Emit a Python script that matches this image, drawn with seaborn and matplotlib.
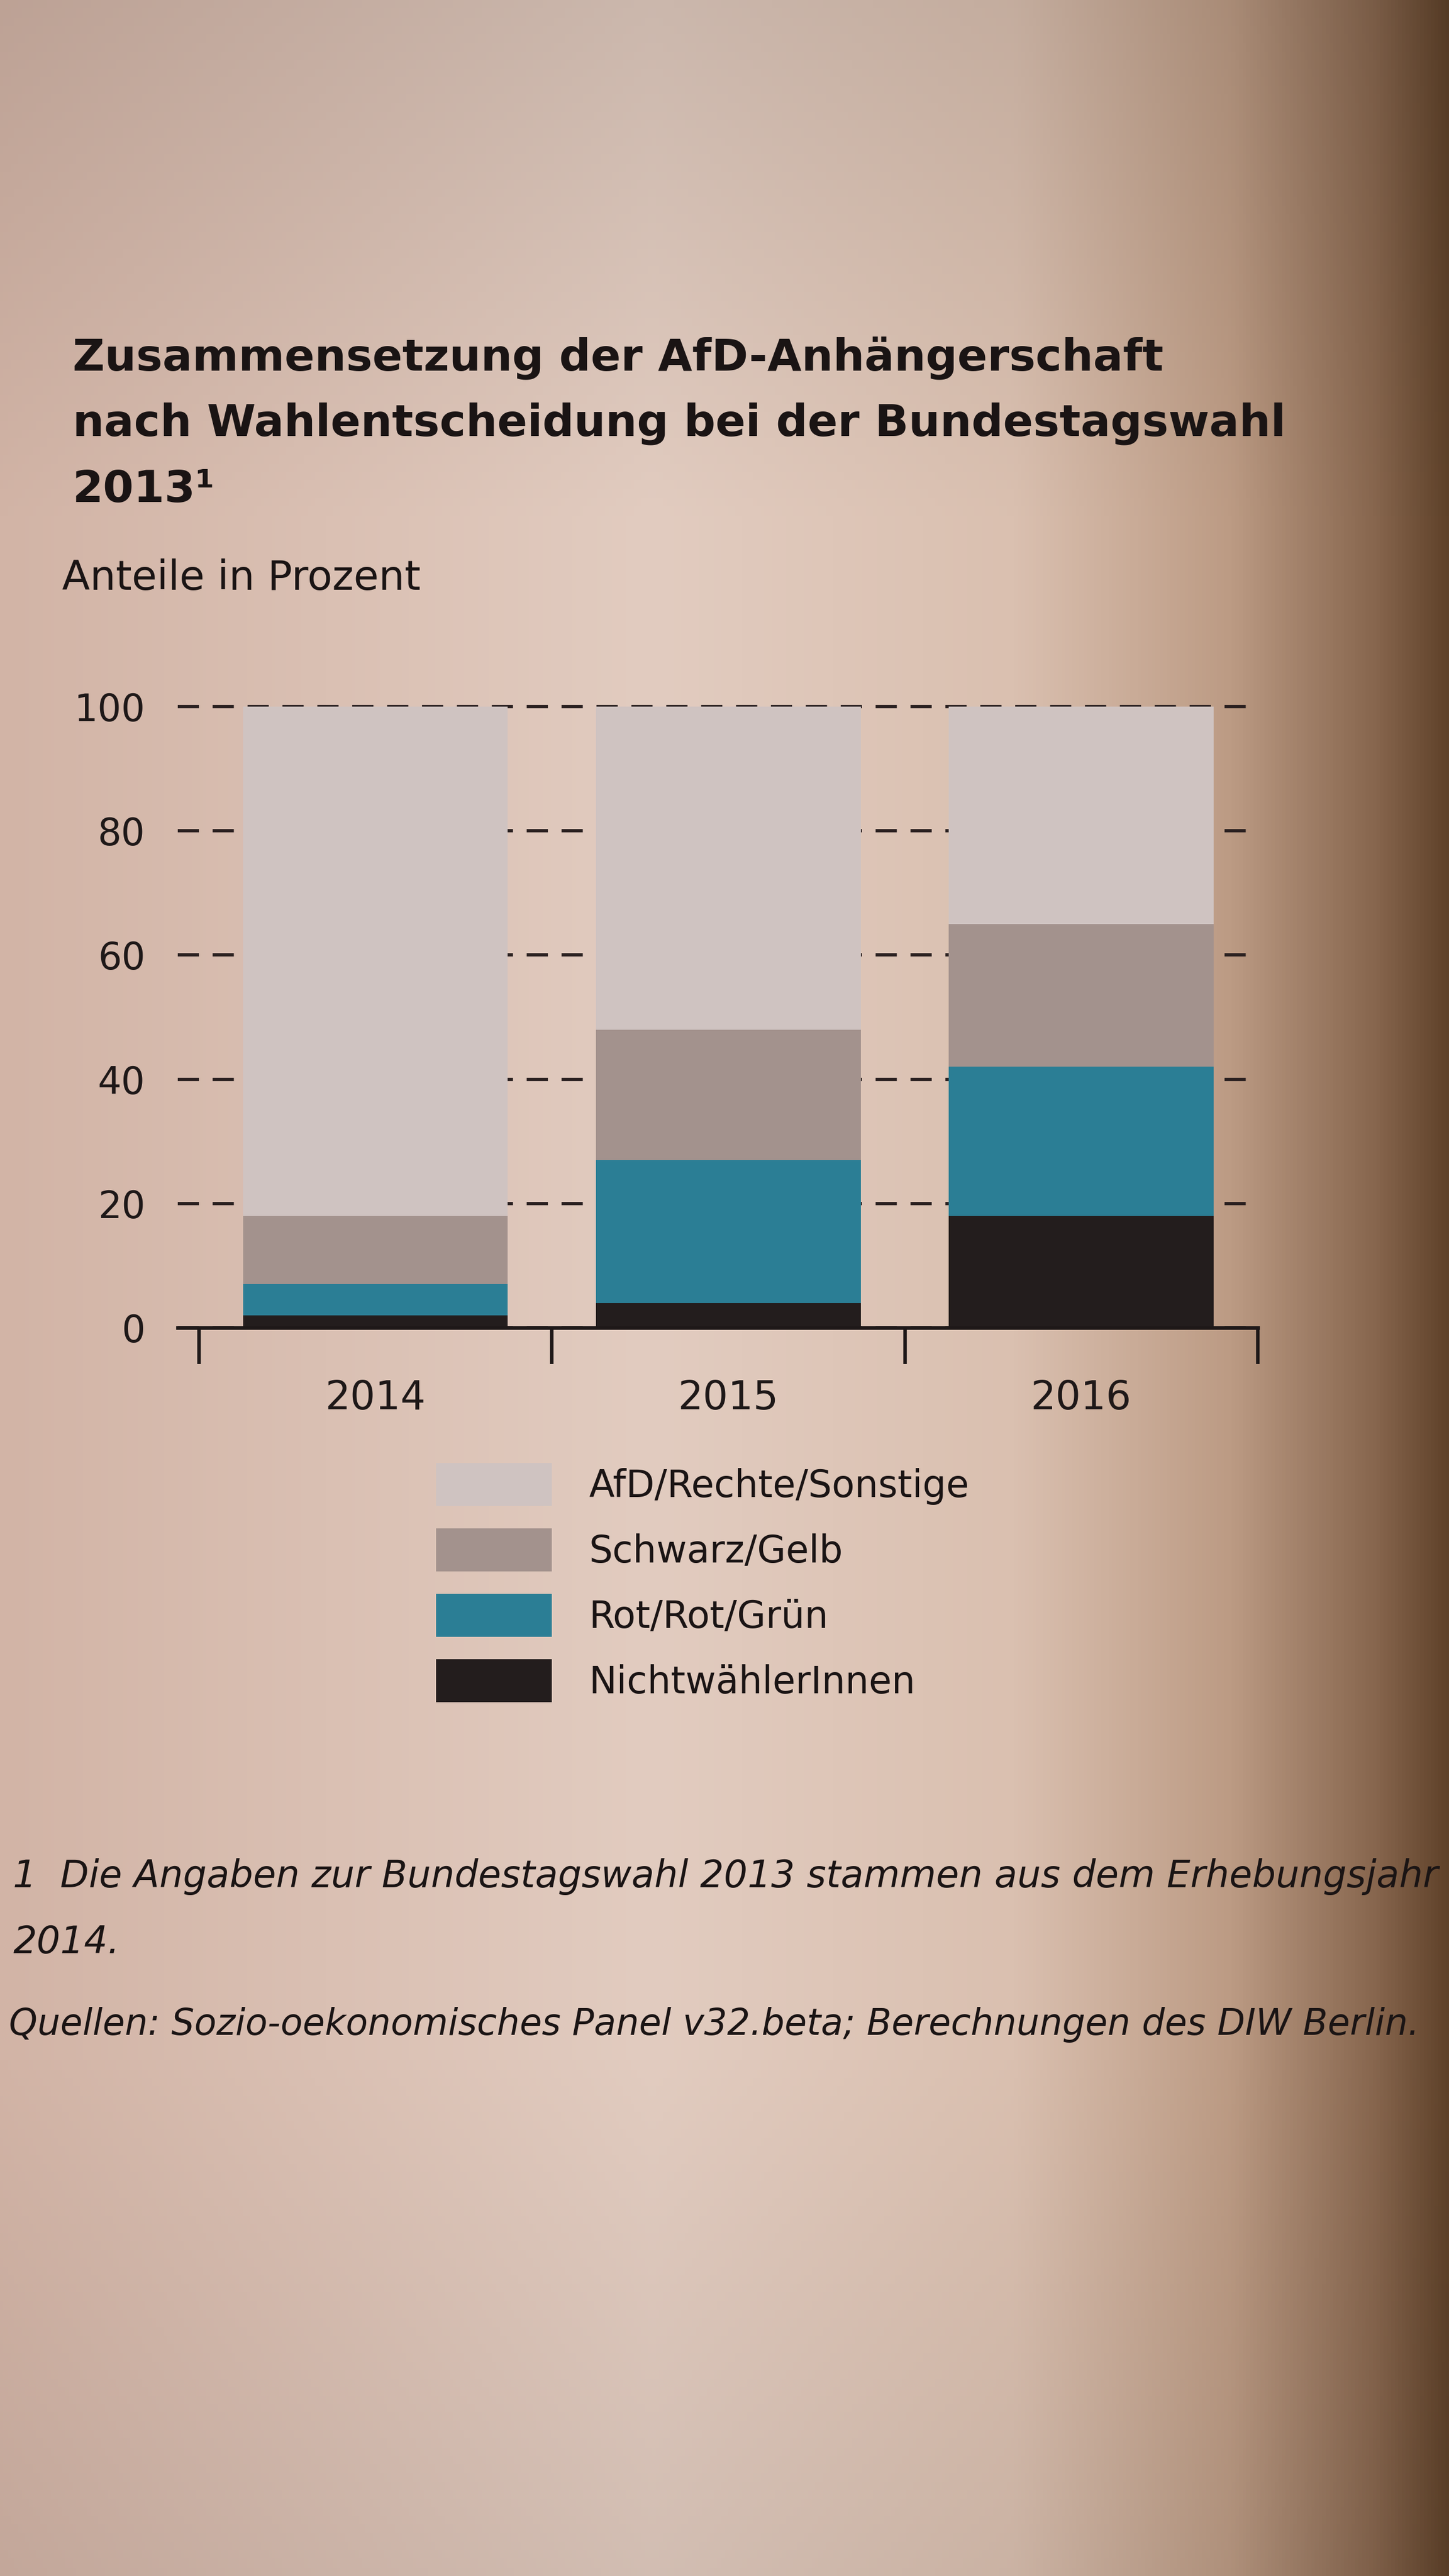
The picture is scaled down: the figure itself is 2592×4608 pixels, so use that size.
import numpy as np
import pandas as pd
import matplotlib.pyplot as plt
from matplotlib.patches import Patch
import seaborn as sns

# Data (Anteile in Prozent)
years = ['2014', '2015', '2016']
nichtwaehler = [2, 4, 18]
rot_rot_gruen = [5, 23, 24]
schwarz_gelb = [11, 21, 23]
afd_rechte_sonstige = [82, 52, 35]

series_labels = ['AfD/Rechte/Sonstige', 'Schwarz/Gelb', 'Rot/Rot/Grün', 'NichtwählerInnen']
series_colors = ['#cfc3c1', '#a3928d', '#2b7e95', '#231d1d']
y_ticks = [0, 20, 40, 60, 80, 100]

# Set style, then fonts
sns.set_theme(style='white')
plt.rcParams['font.family'] = ['DejaVu Sans']

fig = plt.figure(figsize=(8.64, 15.36), dpi=300)

# paper-like background (photo of a printed page)
bg = fig.add_axes([0, 0, 1, 1], zorder=-10)
xs = np.linspace(0, 1, 400)
stops = [0.0, 0.45, 0.7, 0.85, 0.95, 1.0]
r = np.interp(xs, stops, [210, 226, 218, 188, 135, 95])
g = np.interp(xs, stops, [180, 204, 192, 155, 102, 66])
b = np.interp(xs, stops, [166, 192, 176, 132, 78, 42])
ys = np.linspace(0, 1, 300)[:, None]
shade = np.interp(ys, [0.0, 0.2, 0.8, 1.0], [0.9, 1.0, 1.0, 0.93])
img = np.stack([r[None, :] * shade, g[None, :] * shade, b[None, :] * shade], axis=-1) / 255
bg.imshow(np.clip(img, 0, 1), aspect='auto', extent=[0, 1, 0, 1])
bg.axis('off')

# build stacked table
df = pd.DataFrame({
    'year': years,
    'NichtwählerInnen': nichtwaehler,
    'Rot/Rot/Grün': rot_rot_gruen,
    'Schwarz/Gelb': schwarz_gelb,
    'AfD/Rechte/Sonstige': afd_rechte_sonstige,
})
stack_order = ['NichtwählerInnen', 'Rot/Rot/Grün', 'Schwarz/Gelb', 'AfD/Rechte/Sonstige']
cum = df[stack_order].cumsum(axis=1)
for col in stack_order:
    df['top_' + col] = cum[col]

ax = fig.add_axes([0.1227, 0.4846, 0.868 - 0.1227, 0.2459])
ax.set_facecolor('none')

# draw from the tallest cumulative layer down so each shows its segment
for label, color in zip(series_labels, series_colors):
    sns.barplot(data=df, x='year', y='top_' + label, color=color, saturation=1,
                width=0.75, errorbar=None, linewidth=0, ax=ax)

ax.set_xlim(-0.56, 2.5)
ax.set_ylim(0, 102)
ax.set_yticks(y_ticks)
ax.set_yticklabels([str(t) for t in y_ticks])
ax.set_xticks([0, 1, 2])
ax.set_xticklabels(years)
ax.set_xticks([-0.5, 0.5, 1.5, 2.5], minor=True)
ax.set_xlabel('')
ax.set_ylabel('')

# dashed gridlines behind the bars
ax.set_axisbelow(True)
ax.yaxis.grid(True, color='#2a2020', linewidth=1.4, linestyle=(0, (6.5, 4.2)))
ax.xaxis.grid(False)

for s in ['left', 'top', 'right']:
    ax.spines[s].set_visible(False)
ax.spines['bottom'].set_color('#1e1818')
ax.spines['bottom'].set_linewidth(1.6)

ax.tick_params(axis='y', length=0, pad=14, labelsize=16, labelcolor='#1e1818')
ax.tick_params(axis='x', which='major', length=0, pad=22, labelsize=17, labelcolor='#1e1818')
ax.tick_params(axis='x', which='minor', length=15.6, width=1.5, color='#1e1818',
               direction='out', bottom=True)

# titles
title_lines = ['Zusammensetzung der AfD-Anhängerschaft',
               'nach Wahlentscheidung bei der Bundestagswahl',
               '2013¹']
for i, line in enumerate(title_lines):
    fig.text(0.050, 1 - (640 + 118 * i) / 4608, line, fontsize=19, fontweight='bold',
             color='#1a1414', va='center', ha='left')
fig.text(0.043, 1 - 1035 / 4608, 'Anteile in Prozent', fontsize=17.5,
         color='#1a1414', va='center', ha='left')

# legend
handles = [Patch(facecolor=c, edgecolor='none', label=l)
           for l, c in zip(series_labels, series_colors)]
fig.legend(handles=handles, loc='upper left', bbox_to_anchor=(0.301, 1 - 2617 / 4608),
           frameon=False, fontsize=16, handlelength=3.1, handleheight=1.4,
           labelspacing=0.6, handletextpad=1.0, borderpad=0, borderaxespad=0,
           labelcolor='#1a1414')

# footnotes
fig.text(0.009, 1 - 3357 / 4608,
         '1  Die Angaben zur Bundestagswahl 2013 stammen aus dem Erhebungsjahr',
         fontsize=16, style='italic', color='#1a1414', va='center', ha='left')
fig.text(0.009, 1 - 3475 / 4608, '2014.', fontsize=16, style='italic',
         color='#1a1414', va='center', ha='left')
fig.text(0.006, 1 - 3622 / 4608,
         'Quellen: Sozio-oekonomisches Panel v32.beta; Berechnungen des DIW Berlin.',
         fontsize=15.5, style='italic', color='#1a1414', va='center', ha='left')

fig.savefig('out.png', dpi=300)
